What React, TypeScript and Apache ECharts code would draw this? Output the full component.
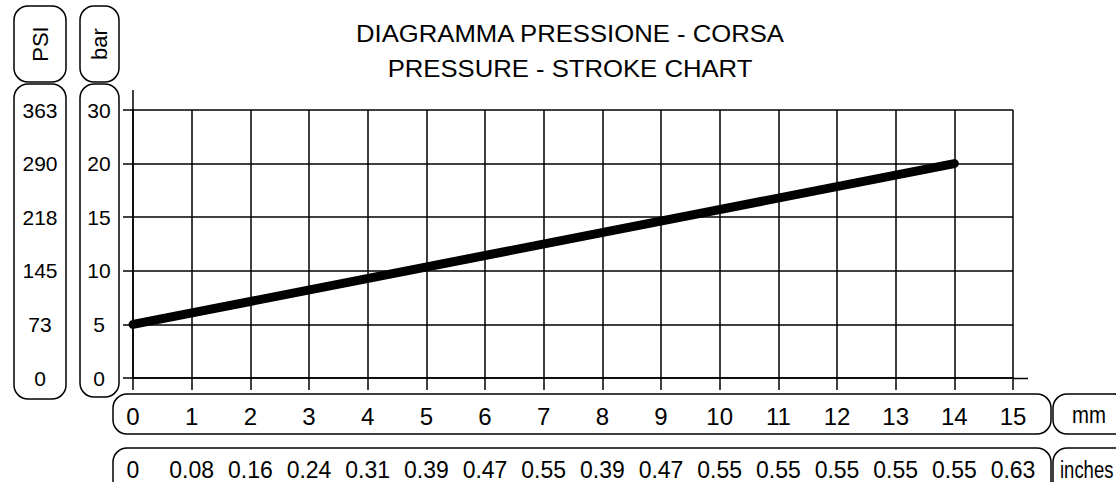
import React, { useEffect, useRef } from "react";
import * as echarts from "echarts";

const mmTicks = [0, 1, 2, 3, 4, 5, 6, 7, 8, 9, 10, 11, 12, 13, 14, 15];
const inchLabels = ["0", "0.08", "0.16", "0.24", "0.31", "0.39", "0.47", "0.55", "0.39", "0.47", "0.55", "0.55", "0.55", "0.55", "0.55", "0.63"];
const barTicks = [0, 5, 10, 15, 20, 30];
const psiTicks = [0, 73, 145, 218, 290, 363];
const strokeMm = [0, 14];
const pressureBar = [5, 20];

const FONT = '"Liberation Sans", Arial, sans-serif';

// map a bar value onto the evenly spaced tick scale
function barToPos(v: number): number {
  for (let i = 0; i < barTicks.length - 1; i++) {
    const a = barTicks[i], b = barTicks[i + 1];
    if (v >= a && v <= b) return i + (v - a) / (b - a);
  }
  return barTicks.length - 1;
}

export default function App() {
  const ref = useRef<HTMLDivElement>(null);
  useEffect(() => {
    if (!ref.current) return;
    const chart = echarts.init(ref.current, null, { renderer: "svg" });
    const box = (x: number, y: number, w: number, h: number, r = 14) => ({
      type: "rect",
      shape: { x, y, width: w, height: h, r },
      style: { fill: "none", stroke: "#000", lineWidth: 1.5 },
      silent: true,
    });
    const txt = (text: string, x: number, y: number, size: number, extra: any = {}) => ({
      type: "text",
      x,
      y,
      style: { text, fill: "#000", font: `${size}px ${FONT}`, align: "center", verticalAlign: "middle", ...(extra.style || {}) },
      ...(extra.el || {}),
    });
    chart.setOption({
      animation: false,
      backgroundColor: "#fff",
      grid: { left: 133, top: 110, right: 103, bottom: 104, containLabel: false },
      xAxis: [
        {
          type: "value",
          min: 0,
          max: mmTicks[mmTicks.length - 1],
          interval: 1,
          position: "bottom",
          axisLine: { show: true, onZero: false, lineStyle: { color: "#000", width: 1.5 } },
          axisTick: { show: true, length: 12, lineStyle: { color: "#000", width: 1.5 } },
          splitLine: { show: true, lineStyle: { color: "#000", width: 1.5 } },
          axisLabel: {
            show: true, margin: 26, color: "#000", fontSize: 24, fontFamily: FONT,
            showMinLabel: true, showMaxLabel: true, hideOverlap: false,
            formatter: (v: number) => String(mmTicks[Math.round(v)] ?? ""),
          },
        },
        {
          type: "value",
          min: 0,
          max: mmTicks[mmTicks.length - 1],
          interval: 1,
          position: "bottom",
          axisLine: { show: false },
          axisTick: { show: false },
          splitLine: { show: false },
          axisLabel: {
            show: true, margin: 80, color: "#000", fontSize: 23, fontFamily: FONT,
            showMinLabel: true, showMaxLabel: true, hideOverlap: false,
            formatter: (v: number) => inchLabels[Math.round(v)] ?? "",
          },
        },
      ],
      yAxis: [
        {
          type: "value",
          min: 0,
          max: barTicks.length - 1,
          interval: 1,
          position: "left",
          axisLine: { show: true, onZero: false, lineStyle: { color: "#000", width: 1.5 } },
          axisTick: { show: true, length: 10, lineStyle: { color: "#000", width: 1.5 } },
          splitLine: { show: true, lineStyle: { color: "#000", width: 1.5 } },
          axisLabel: {
            show: true, margin: 34, align: "center", color: "#000", fontSize: 21, fontFamily: FONT,
            padding: [4, 0, 0, 0],
            showMinLabel: true, showMaxLabel: true, hideOverlap: false,
            formatter: (v: number) => String(barTicks[Math.round(v)] ?? ""),
          },
        },
        {
          type: "value",
          min: 0,
          max: psiTicks.length - 1,
          interval: 1,
          position: "left",
          axisLine: { show: false },
          axisTick: { show: false },
          splitLine: { show: false },
          axisLabel: {
            show: true, margin: 93, align: "center", color: "#000", fontSize: 21, fontFamily: FONT,
            padding: [4, 0, 0, 0],
            showMinLabel: true, showMaxLabel: true, hideOverlap: false,
            formatter: (v: number) => String(psiTicks[Math.round(v)] ?? ""),
          },
        },
      ],
      series: [
        {
          type: "line",
          xAxisIndex: 0,
          yAxisIndex: 0,
          data: strokeMm.map((x, i) => [x, barToPos(pressureBar[i])]),
          showSymbol: false,
          symbol: "none",
          lineStyle: { color: "#000", width: 9, cap: "round" },
          z: 5,
        },
      ],
      graphic: [
        txt("DIAGRAMMA PRESSIONE - CORSA", 570, 34, 24, { el: { scaleX: 1.07 } }),
        txt("PRESSURE - STROKE CHART", 570, 69, 24, { el: { scaleX: 1.07 } }),
        { type: "line", shape: { x1: 133, y1: 90, x2: 133, y2: 110 }, style: { stroke: "#000", lineWidth: 1.5 } },
        { type: "line", shape: { x1: 1013, y1: 378.5, x2: 1028, y2: 378.5 }, style: { stroke: "#000", lineWidth: 1.5 } },
        box(14, 6, 52, 76),
        box(14, 84, 52, 315),
        box(80, 6, 39, 76),
        box(80, 84, 39, 313),
        box(113, 394, 938, 40),
        box(1053, 394, 75, 40),
        box(113, 448, 938, 60),
        box(1053, 448, 90, 60),
        txt("PSI", 40, 44, 22, { el: { rotation: Math.PI / 2 } }),
        txt("bar", 99, 44, 22, { el: { rotation: Math.PI / 2 } }),
        txt("mm", 1089, 415, 24, { el: { scaleX: 0.85 } }),
        txt("inches", 1060, 470, 24, { style: { align: "left" }, el: { scaleX: 0.77 } }),
      ],
    });
    return () => chart.dispose();
  }, []);
  return <div ref={ref} style={{ position: "absolute", left: 0, top: 0, width: 1116, height: 482 }} />;
}
